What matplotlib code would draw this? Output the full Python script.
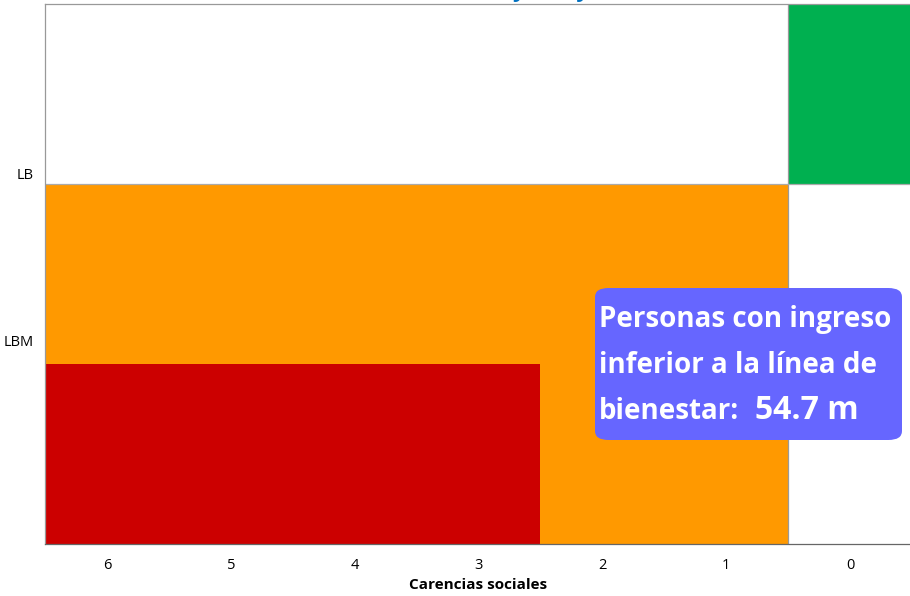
import matplotlib
matplotlib.use("Agg")
import matplotlib.pyplot as plt
from matplotlib.patches import FancyBboxPatch

# Data
carencias = ["6", "5", "4", "3", "2", "1", "0"]
# colour code per cell: 'r' pobreza extrema, 'o' pobreza moderada, 'g' no pobre, '' blank
banda_inferior = ["r", "r", "r", "r", "o", "o", ""]   # below LBM
banda_media = ["o", "o", "o", "o", "o", "o", ""]      # between LBM and LB
banda_superior = ["", "", "", "", "", "", "g"]        # above LB
y_labels = ["LBM", "LB"]
y_label_pos = [1.13, 2.06]
valor = "54.7 m"

COLORS = {"r": "#CC0000", "o": "#FF9900", "g": "#00B050"}
BOX = "#6666FF"

fig = plt.figure(figsize=(9.1, 5.96), dpi=100)
ax = fig.add_axes([0.0496, 0.0872, 0.9525, 0.9061])

x = list(range(len(carencias)))
for bottom, band in enumerate([banda_inferior, banda_media, banda_superior]):
    for xi, c in zip(x, band):
        if c:
            ax.bar(xi, 1, bottom=bottom, width=1.0, color=COLORS[c], linewidth=0, antialiased=False)

# boundary lines
ax.axvline(5.5, color="#999999", lw=0.9)
ax.axhline(2, color="#AAAAAA", lw=0.9)

ax.set_xlim(-0.5, 6.5)
ax.set_ylim(0, 3)
ax.set_xticks(x)
ax.set_xticklabels(carencias, fontsize=10.5, family="Open Sans")
ax.set_yticks(y_label_pos)
ax.set_yticklabels(y_labels, fontsize=10.5, family="Open Sans")
ax.tick_params(length=0, pad=10)
ax.tick_params(axis="y", pad=8)
ax.set_xlabel("Carencias sociales", fontsize=11, fontweight="bold", family="Open Sans", labelpad=4)

for s in ["top", "left", "right"]:
    ax.spines[s].set_color("#999999")
    ax.spines[s].set_linewidth(0.9)
ax.spines["bottom"].set_color("#666666")
ax.spines["bottom"].set_linewidth(0.9)

# Annotation box (pixel coords: x 595-902, y 288-440)
W, H = 910, 596
bx0, by0, bx1, by1 = 595 / W, 1 - 440 / H, 902 / W, 1 - 288 / H
box = FancyBboxPatch((bx0, by0), bx1 - bx0, by1 - by0,
                     boxstyle="round,pad=0,rounding_size=0.015",
                     transform=fig.transFigure, facecolor=BOX, edgecolor="none")
fig.patches.append(box)
fkw = dict(color="white", fontweight="bold", family="Open Sans", transform=fig.transFigure, va="baseline", ha="left")
fig.text(599 / W, 1 - 327 / H, "Personas con ingreso", fontsize=20, **fkw)
fig.text(599 / W, 1 - 373 / H, "inferior a la línea de", fontsize=20, **fkw)
fig.text(599 / W, 1 - 419 / H, "bienestar:", fontsize=20, **fkw)
fig.text(755 / W, 1 - 419 / H, valor, fontsize=23, **fkw)

# Title mostly cut off at top (only descenders visible in the reference)
fig.text(0.605, 1.0 + 8 / H, "y         y", color="#0070C0", fontsize=16, fontweight="bold",
         ha="center", va="center", family="Open Sans")

fig.savefig("out.png", dpi=100)
